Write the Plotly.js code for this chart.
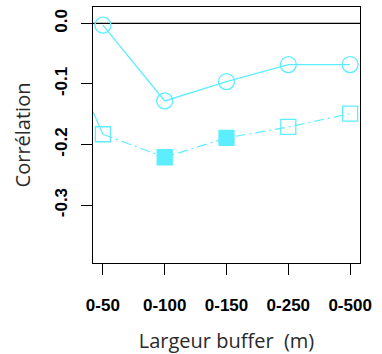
<!DOCTYPE html>
<html><head><meta charset="utf-8">
<script src="https://cdn.plot.ly/plotly-3.0.1.min.js"></script>
<style>html,body{margin:0;padding:0;background:#fff}#c{width:382px;height:354px}</style>
</head><body><div id="c"></div>
<script>
const categories = ["0-50", "0-100", "0-150", "0-250", "0-500"];
const positions = [1, 2, 3, 4, 5];
const circleValues = [-0.003, -0.128, -0.096, -0.068, -0.068];
const squareValues = [-0.183, -0.221, -0.189, -0.171, -0.149];
const squareFilled = [false, true, true, false, false];
const strayX = [0.84, 1];
const strayY = [-0.146, -0.183];
const yTicks = [0, -0.1, -0.2, -0.3];
const yTickText = ["0.0", "-0.1", "-0.2", "-0.3"];

const cyan = "#5CEEFF";
const traces = [
  {x: [0.84, 5.16], y: [0, 0], mode: "lines", line: {color: "#000", width: 1.2}, hoverinfo: "skip"},
  {x: strayX, y: strayY, mode: "lines", line: {color: cyan, width: 1.2}},
  {x: positions, y: circleValues, mode: "lines+markers",
   line: {color: cyan, width: 1.3},
   marker: {symbol: "circle-open", size: 16, color: cyan, line: {color: cyan, width: 1.3}}},
  {x: positions, y: squareValues, mode: "lines+markers",
   line: {color: cyan, width: 1.2, dash: "10px,4px,2px,4px"},
   marker: {symbol: squareFilled.map(f => f ? "square" : "square-open"), size: 15, color: cyan,
            line: {color: cyan, width: 1.3}}}
];
const fontT = {family: "Liberation Sans, Arial, sans-serif", size: 17, color: "#000", weight: "bold"};
const fontTitle = {family: "Open Sans", size: 20, color: "#2a2a2a"};
const layout = {
  width: 382, height: 354,
  margin: {l: 93, r: 22, t: 7, b: 91},
  showlegend: false,
  plot_bgcolor: "#fff", paper_bgcolor: "#fff",
  xaxis: {
    range: [0.84, 5.16], tickvals: positions, ticktext: categories,
    showgrid: false, zeroline: false, showline: true, mirror: true, linecolor: "#000", linewidth: 1.3,
    ticks: "outside", ticklen: 11, tickcolor: "#000", tickwidth: 1,
    tickfont: fontT, ticklabelstandoff: 15,
    title: {text: "Largeur buffer  (m)", font: fontTitle, standoff: 22}
  },
  yaxis: {
    range: [-0.3955, 0.027], tickvals: yTicks, ticktext: yTickText, tickangle: -90,
    showgrid: false, zeroline: false, showline: true, mirror: true, linecolor: "#000", linewidth: 1.3,
    ticks: "outside", ticklen: 11, tickcolor: "#000", tickwidth: 1,
    tickfont: fontT, ticklabelstandoff: 7,
    title: {text: "Corrélation", font: fontTitle, standoff: 16}
  }
};
Plotly.newPlot("c", traces, layout, {staticPlot: true, displayModeBar: false});
</script></body></html>
